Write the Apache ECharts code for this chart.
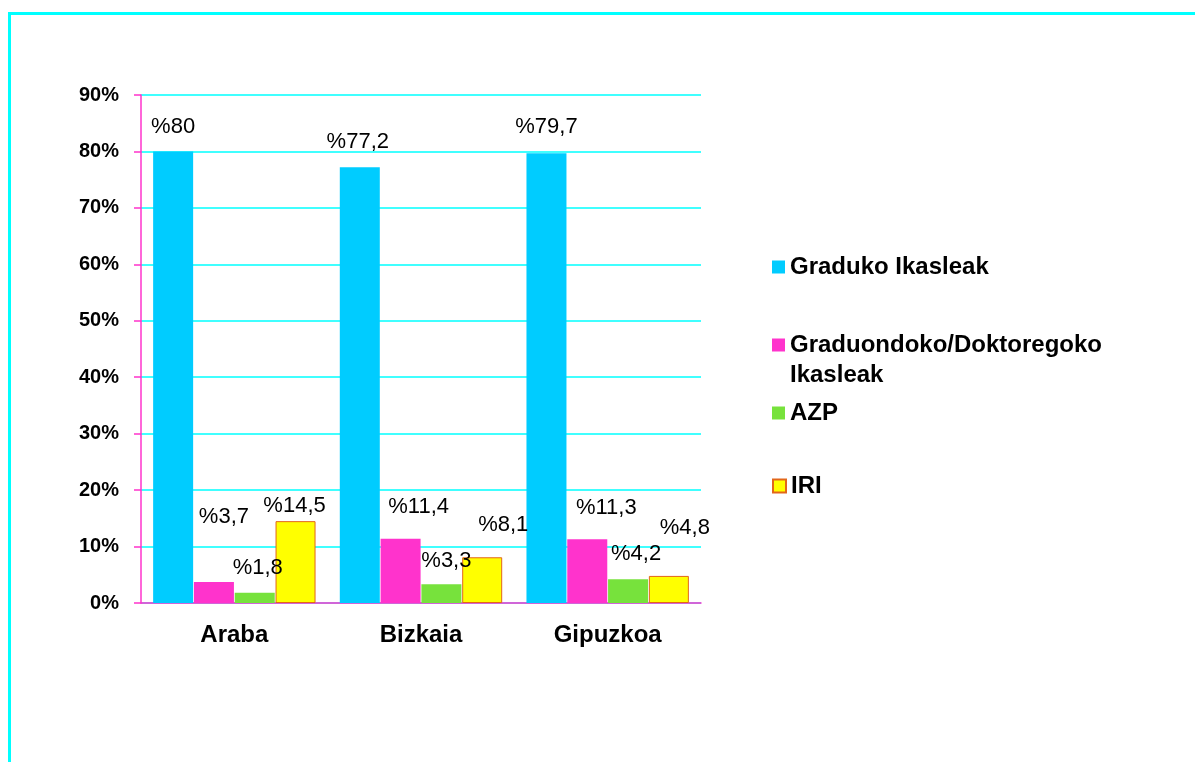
<!DOCTYPE html>
<html>
<head>
<meta charset="utf-8">
<script src="https://cdn.jsdelivr.net/npm/echarts@6/dist/echarts.min.js"></script>
<style>
    html, body { margin: 0; padding: 0; background: #fff; }
    #main { width: 1195px; height: 762px; }
</style>
</head>
<body>
<div id="main"></div>
<script>
// datuak
const categories = ['Araba', 'Bizkaia', 'Gipuzkoa']
const graduko = [80, 77.2, 79.7]
const graduondoko = [3.7, 11.4, 11.3]
const azp = [1.8, 3.3, 4.2]
const iri = [14.5, 8.1, 4.8]

const names = ['Graduko Ikasleak', 'Graduondoko/Doktoregoko\nIkasleak', 'AZP', 'IRI']

// label nudges, the source placed them by hand
const nudgeGraduko = [[0, -9], [-2, -9], [0, -10]]
const nudgeGraduondoko = [[10, -49], [18, -16], [19, -15]]
const nudgeAzp = [[3, -9], [5, -7], [8, -9]]
const nudgeIri = [[-1, 1], [21, -16], [16, -32]]

const font = 'Liberation Sans, Arial, sans-serif'

const fmt = (p) => '%' + String(p.value).replace('.', ',')

const makeSeries = (name, values, nudge, color, extra) => {
    return Object.assign({
        name: name,
        type: 'bar',
        barWidth: 40,
        barGap: '2%',
        itemStyle: { color: color },
        label: {
            show: true,
            position: 'top',
            distance: 5,
            formatter: fmt,
            color: '#000',
            fontFamily: font,
            fontSize: 22
        },
        data: values.map((v, i) => ({ value: v, label: { offset: nudge[i] } }))
    }, extra || {})
}

const legendBase = {
    left: 772,
    padding: 0,
    icon: 'rect',
    itemWidth: 13,
    itemHeight: 13,
    itemGap: 5,
    selectedMode: false,
    textStyle: { fontFamily: font, fontSize: 24, fontWeight: 'bold', color: '#000' }
}

const chart = echarts.init(document.getElementById('main'), null, { renderer: 'canvas' })

chart.setOption({
    animation: false,
    backgroundColor: '#fff',
    graphic: [{
        type: 'rect',
        shape: { x: 9.5, y: 13.5, width: 1400, height: 900 },
        style: { fill: 'none', stroke: '#00FFFF', lineWidth: 3 },
        silent: true
    }],
    grid: {
        left: 141,
        right: 494,
        top: 95,
        bottom: 159,
        containLabel: false,
        outerBoundsMode: 'none'
    },
    legend: [
        Object.assign({}, legendBase, { top: 255, data: [names[0]] }),
        Object.assign({}, legendBase, {
            top: 300,
            data: [names[1]],
            // blank first line keeps the icon beside the first text line
            formatter: (name) => ' \n' + name,
            textStyle: Object.assign({}, legendBase.textStyle, { lineHeight: 30 })
        }),
        Object.assign({}, legendBase, { top: 401, data: [names[2]] }),
        Object.assign({}, legendBase, { top: 474, data: [names[3]] })
    ],
    xAxis: {
        type: 'category',
        data: categories,
        axisLine: { lineStyle: { color: '#FF33CC', width: 1.5 } },
        axisTick: { show: false },
        axisLabel: {
            color: '#000',
            fontFamily: font,
            fontSize: 24,
            fontWeight: 'bold',
            margin: 20
        }
    },
    yAxis: {
        type: 'value',
        min: 0,
        max: 90,
        interval: 10,
        axisLine: { show: true, lineStyle: { color: '#FF33CC', width: 1.5 } },
        axisTick: { show: true, length: 7, lineStyle: { color: '#FF33CC', width: 1.5 } },
        splitLine: { show: true, lineStyle: { color: '#00FFFF', width: 1.5 } },
        axisLabel: {
            formatter: '{value}%',
            color: '#000',
            fontFamily: font,
            fontSize: 20,
            fontWeight: 'bold',
            margin: 22
        }
    },
    series: [
        makeSeries(names[0], graduko, nudgeGraduko, '#00CCFF'),
        makeSeries(names[1], graduondoko, nudgeGraduondoko, '#FF33CC'),
        makeSeries(names[2], azp, nudgeAzp, '#77E23C'),
        makeSeries(names[3], iri, nudgeIri, '#FFFF00', {
            itemStyle: { color: '#FFFF00', borderColor: '#E2661A', borderWidth: 1 }
        })
    ]
})

window.addEventListener('resize', () => {
    chart.resize()
})
</script>
</body>
</html>
